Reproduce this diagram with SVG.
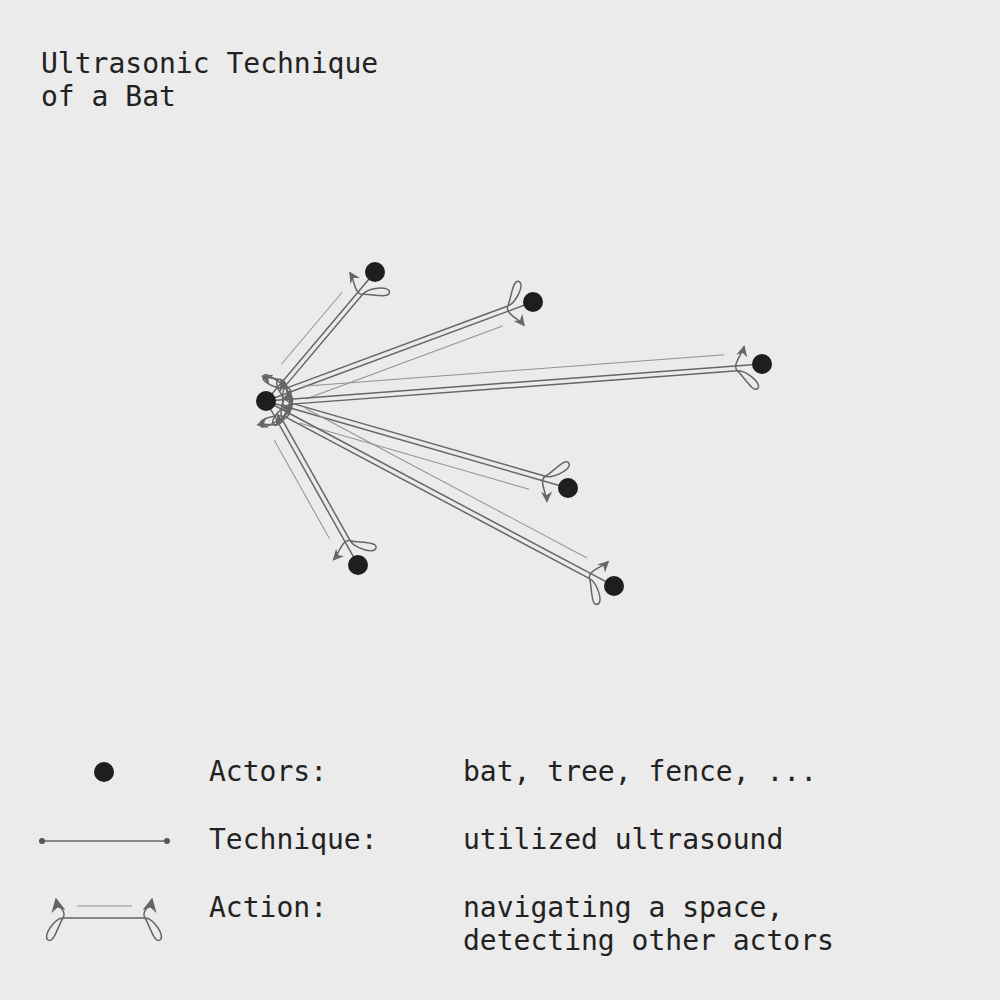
<svg xmlns="http://www.w3.org/2000/svg" width="1000" height="1000" viewBox="0 0 1000 1000">
<defs>
<style>
.bg{fill:#ebebeb}
.txt{font-family:"DejaVu Sans Mono","Liberation Mono",monospace;font-size:28px;fill:#222}
.node{fill:#1e1e1e}
.tech{fill:none;stroke:#666;stroke-width:1.5}
.act{fill:none;stroke:#666;stroke-width:1.5;marker-start:url(#arrS);marker-end:url(#arrE)}
.actL{fill:none;stroke:#666;stroke-width:1.5;marker-start:url(#arrLS);marker-end:url(#arrLE)}
.thin{fill:none;stroke:#929292;stroke-width:1}
</style>
<marker id="arrE" viewBox="0 0 10 10" refX="9" refY="5" markerWidth="7.5" markerHeight="7.5" orient="auto" markerUnits="strokeWidth">
<path d="M0,0 L10,5 L0,10 L3,5 z" fill="#666"/>
</marker>
<marker id="arrS" viewBox="0 0 10 10" refX="9" refY="5" markerWidth="7.5" markerHeight="7.5" orient="auto-start-reverse" markerUnits="strokeWidth">
<path d="M0,0 L10,5 L0,10 L3,5 z" fill="#666"/>
</marker>
<marker id="arrLE" viewBox="0 0 10 10" refX="9" refY="5" markerWidth="9.5" markerHeight="9.5" orient="auto" markerUnits="strokeWidth">
<path d="M0,0 L10,5 L0,10 L3,5 z" fill="#6a6468"/>
</marker>
<marker id="arrLS" viewBox="0 0 10 10" refX="9" refY="5" markerWidth="9.5" markerHeight="9.5" orient="auto-start-reverse" markerUnits="strokeWidth">
<path d="M0,0 L10,5 L0,10 L3,5 z" fill="#6a6468"/>
</marker>
</defs>
<rect class="bg" x="0" y="0" width="1000" height="1000"/>

<g id="title">
<text class="txt" x="41" y="73">Ultrasonic Technique</text>
<text class="txt" x="41" y="106">of a Bat</text>
</g>

<g id="connectors">
<g transform="translate(266,401) rotate(-49.8)">
<path class="tech" d="M0,0 L168.9,0"/>
<path class="thin" d="M38,-12 L131.9,-12"/>
<path class="act" d="M16.5,-19 C19.1,-11 30.7,-0.7 25,5 C19.3,10.7 10.95,28.9 6,24 C1.1,19.05 17,5 25,5 L143.9,5 C151.9,5 167.8,19.05 162.9,24 C157.95,28.9 149.6,10.7 143.9,5 C138.2,-0.7 149.8,-11 152.4,-19"/>
</g>
<g transform="translate(266,401) rotate(-20.35) scale(1,-1)">
<path class="tech" d="M0,0 L284.8,0"/>
<path class="thin" d="M38,-12 L247.8,-12"/>
<path class="act" d="M16.5,-19 C19.1,-11 30.7,-0.7 25,5 C19.3,10.7 10.95,28.9 6,24 C1.1,19.05 17,5 25,5 L259.8,5 C267.8,5 283.7,19.05 278.8,24 C273.85,28.9 265.5,10.7 259.8,5 C254.1,-0.7 265.7,-11 268.3,-19"/>
</g>
<g transform="translate(266,401) rotate(-4.27)">
<path class="tech" d="M0,0 L497.4,0"/>
<path class="thin" d="M38,-12 L460.4,-12"/>
<path class="act" d="M16.5,-19 C19.1,-11 30.7,-0.7 25,5 C19.3,10.7 10.95,28.9 6,24 C1.1,19.05 17,5 25,5 L472.4,5 C480.4,5 496.3,19.05 491.4,24 C486.45,28.9 478.1,10.7 472.4,5 C466.7,-0.7 478.3,-11 480.9,-19"/>
</g>
<g transform="translate(266,401) rotate(16.07) scale(1,-1)">
<path class="tech" d="M0,0 L314.3,0"/>
<path class="thin" d="M38,-12 L277.3,-12"/>
<path class="act" d="M16.5,-19 C19.1,-11 30.7,-0.7 25,5 C19.3,10.7 10.95,28.9 6,24 C1.1,19.05 17,5 25,5 L289.3,5 C297.3,5 313.2,19.05 308.3,24 C303.35,28.9 295,10.7 289.3,5 C283.6,-0.7 295.2,-11 297.8,-19"/>
</g>
<g transform="translate(266,401) rotate(27.99)">
<path class="tech" d="M0,0 L394.1,0"/>
<path class="thin" d="M38,-12 L357.1,-12"/>
<path class="act" d="M16.5,-19 C19.1,-11 30.7,-0.7 25,5 C19.3,10.7 10.95,28.9 6,24 C1.1,19.05 17,5 25,5 L369.1,5 C377.1,5 393,19.05 388.1,24 C383.15,28.9 374.8,10.7 369.1,5 C363.4,-0.7 375,-11 377.6,-19"/>
</g>
<g transform="translate(266,401) rotate(60.7) scale(1,-1)">
<path class="tech" d="M0,0 L188,0"/>
<path class="thin" d="M38,-12 L151,-12"/>
<path class="act" d="M16.5,-19 C19.1,-11 30.7,-0.7 25,5 C19.3,10.7 10.95,28.9 6,24 C1.1,19.05 17,5 25,5 L163,5 C171,5 186.9,19.05 182,24 C177.05,28.9 168.7,10.7 163,5 C157.3,-0.7 168.9,-11 171.5,-19"/>
</g>
</g>

<g id="node-center"><circle class="node" cx="266" cy="401" r="10"/></g>
<g id="node-1"><circle class="node" cx="375" cy="272" r="10"/></g>
<g id="node-2"><circle class="node" cx="533" cy="302" r="10"/></g>
<g id="node-3"><circle class="node" cx="762" cy="364" r="10"/></g>
<g id="node-4"><circle class="node" cx="568" cy="488" r="10"/></g>
<g id="node-5"><circle class="node" cx="614" cy="586" r="10"/></g>
<g id="node-6"><circle class="node" cx="358" cy="565" r="10"/></g>

<g id="legend">
<circle class="node" cx="104" cy="772" r="10"/>
<text class="txt" x="209" y="781">Actors:</text>
<text class="txt" x="463" y="781">bat, tree, fence, ...</text>
<line class="tech" x1="42" y1="841" x2="167" y2="841"/>
<circle cx="42" cy="841" r="3" fill="#555"/>
<circle cx="167" cy="841" r="3" fill="#555"/>
<text class="txt" x="209" y="849">Technique:</text>
<text class="txt" x="463" y="849">utilized ultrasound</text>
<line class="thin" x1="77" y1="906" x2="132" y2="906"/>
<path class="actL" d="M56,899 C57.4,906 67.5,911.4 63,918 C58.5,924.6 53.8,943.9 48,940 C42.2,936.06 55,918 63,918 L145,918 C153,918 165.8,936.06 160,940 C154.2,943.9 149.5,924.6 145,918 C140.5,911.4 150.6,906 152,899"/>
<text class="txt" x="209" y="917">Action:</text>
<text class="txt" x="463" y="917">navigating a space,</text>
<text class="txt" x="463" y="950">detecting other actors</text>
</g>
</svg>
